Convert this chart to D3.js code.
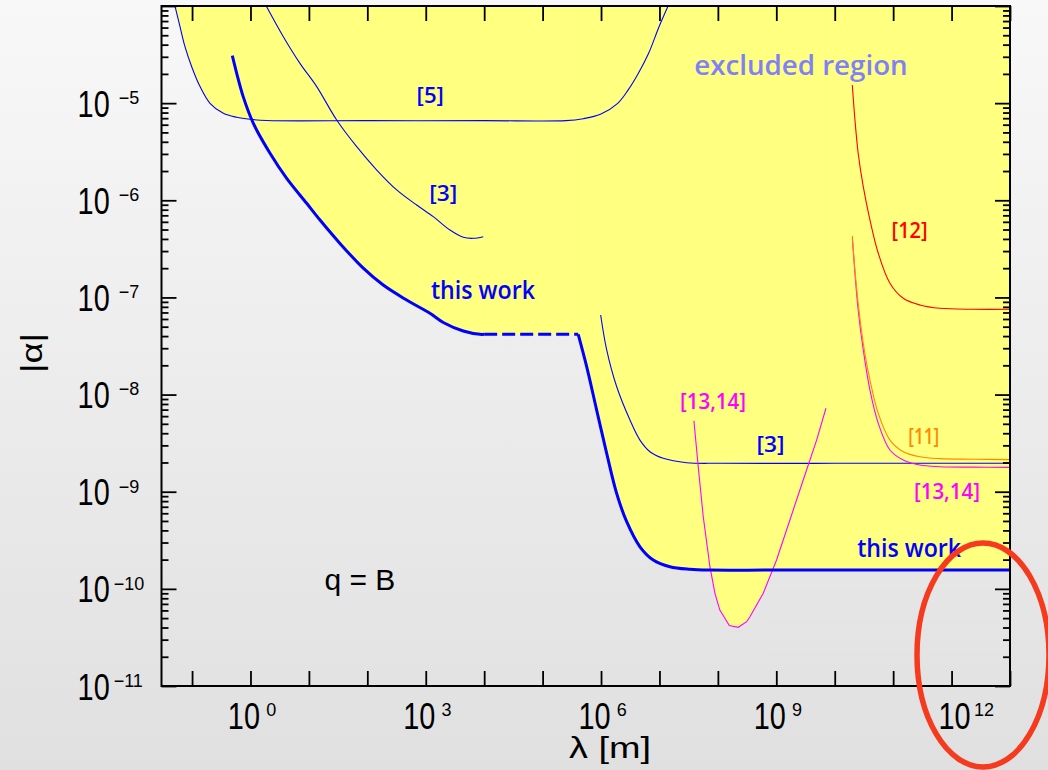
<!DOCTYPE html>
<html>
<head>
<meta charset="utf-8">
<script src="https://cdn.jsdelivr.net/npm/d3@7"></script>
<style>
  html, body { margin: 0; padding: 0; }
  body { width: 1048px; height: 770px; overflow: hidden; }
  text { font-family: "Liberation Sans", Arial, sans-serif; }
</style>
</head>
<body>
<svg id="chart" width="1048" height="770"></svg>
<script>
// Bounds on the coupling |alpha| of a Yukawa-type interaction vs. its range lambda (q = B)

// [5]: short-range torsion-balance bound
const ref5Lambda = [0.0500, 0.0622, 0.0757, 0.0986, 0.137, 0.203, 0.343, 0.581, 0.982, 1.89, 100, 1.0e4, 2.51e5, 4.97e5, 9.77e5, 1.93e6, 2.90e6, 4.36e6, 6.53e6, 9.84e6, 1.51e7];
const ref5Alpha  = [1.05e-4, 6.12e-5, 3.81e-5, 2.37e-5, 1.48e-5, 9.96e-6, 7.85e-6, 7.15e-6, 6.82e-6, 6.62e-6, 6.6e-6, 6.6e-6, 6.6e-6, 6.92e-6, 7.68e-6, 9.96e-6, 1.36e-5, 2.03e-5, 3.26e-5, 6.12e-5, 1.1e-4];

// [3]: laboratory-range bound
const ref3LabLambda = [1.71, 3.65, 7.03, 13.6, 29.9, 65.8, 145, 318, 700, 1345, 2600, 4385, 6500, 9640];
const ref3LabAlpha  = [1.1e-4, 4.83e-5, 2.57e-5, 1.48e-5, 6.70e-6, 3.56e-6, 2.05e-6, 1.28e-6, 8.93e-7, 6.78e-7, 4.94e-7, 4.16e-7, 4.06e-7, 4.22e-7];

// [3]: long-range bound
const ref3FarLambda = [9.86e5, 1.25e6, 1.85e6, 3.13e6, 4.64e6, 6.88e6, 1.16e7, 2.92e7, 1.08e8, 1.0e10, 1.0e13];
const ref3FarAlpha  = [6.59e-8, 2.88e-8, 1.21e-8, 5.47e-9, 3.40e-9, 2.58e-9, 2.21e-9, 1.99e-9, 1.96e-9, 1.96e-9, 1.96e-9];

// this work: short-range part, interpolated gap, long-range part
const thisWorkNearLambda = [0.489, 0.581, 0.753, 1.12, 2.16, 4.17, 9.16, 15.5, 34.0, 85.3, 187, 471, 1180, 1995, 4385, 8470, 1.0e4];
const thisWorkNearAlpha  = [3.08e-5, 2.03e-5, 1.16e-5, 6.19e-6, 3.05e-6, 1.68e-6, 9.31e-7, 6.26e-7, 3.60e-7, 2.0e-7, 1.34e-7, 9.40e-8, 6.86e-8, 5.52e-8, 4.51e-8, 4.17e-8, 4.17e-8];
const thisWorkGapLambda  = [1.0e4, 4.07e5];
const thisWorkGapAlpha   = [4.17e-8, 4.17e-8];
const thisWorkFarLambda  = [4.07e5, 5.68e5, 8.42e5, 1.25e6, 1.85e6, 2.75e6, 4.64e6, 7.83e6, 1.51e7, 3.33e7, 7.31e7, 1.0e9, 1.0e13];
const thisWorkFarAlpha   = [4.17e-8, 1.94e-8, 6.93e-9, 2.48e-9, 9.62e-10, 4.91e-10, 2.71e-10, 1.98e-10, 1.69e-10, 1.59e-10, 1.56e-10, 1.56e-10, 1.56e-10];

// [13,14]: satellite-range bound
const ref1314Lambda = [3.89e7, 4.61e7, 5.62e7, 7.31e7, 8.91e7, 1.08e8, 1.57e8, 2.23e8, 3.11e8, 3.54e8, 5.98e8, 1.01e9, 1.71e9, 2.89e9, 4.90e9, 7.08e9];
const ref1314Alpha  = [5.38e-9, 1.81e-9, 5.53e-10, 1.69e-10, 9.0e-11, 6.05e-11, 4.20e-11, 4.02e-11, 4.59e-11, 5.16e-11, 9.0e-11, 1.98e-10, 5.12e-10, 1.32e-9, 3.40e-9, 7.23e-9];

// planetary-range bounds [12], [11], [13,14] share the same lambda grid
const planetLambda       = [2.0e10, 2.22e10, 2.52e10, 3.08e10, 4.01e10, 5.56e10, 8.81e10, 1.49e11, 2.87e11, 6.32e11, 2.35e12, 1.0e13];
const ref12Alpha         = [1.54e-5, 6.70e-6, 3.05e-6, 1.38e-6, 6.26e-7, 2.85e-7, 1.40e-7, 9.8e-8, 8.36e-8, 7.73e-8, 7.55e-8, 7.55e-8];
const ref11Alpha         = [4.32e-7, 1.91e-7, 8.69e-8, 3.37e-8, 1.41e-8, 6.41e-9, 3.40e-9, 2.58e-9, 2.29e-9, 2.19e-9, 2.16e-9, 2.14e-9];
const ref1314PlanetAlpha = [4.06e-7, 1.77e-7, 7.43e-8, 2.88e-8, 1.11e-8, 5.06e-9, 2.69e-9, 2.12e-9, 1.88e-9, 1.81e-9, 1.79e-9, 1.78e-9];

// tick labels (powers of ten)
const xLabelExponents = [0, 3, 6, 9, 12];
const yLabelExponents = [-11, -10, -9, -8, -7, -6, -5];

// curve annotations: text, lambda, alpha
const noteText   = ["excluded region", "[5]", "[3]", "this work", "[12]", "[13,14]", "[3]", "[11]", "[13,14]", "this work", "q = B"];
const noteLambda = [2.64e9, 1194, 1995, 9530, 1.91e11, 8.24e7, 7.94e8, 3.34e11, 8.32e11, 1.88e11, 19.4];
const noteAlpha  = [1.95e-5, 1.0e-5, 9.9e-7, 9.57e-8, 4.06e-7, 7.05e-9, 2.55e-9, 3.10e-9, 8.36e-10, 2.11e-10, 9.7e-11];

// ---------------------------------------------------------------------------
const W = 1048, H = 770;
const plot = { left: 161.5, right: 1010, top: 6, bottom: 686 };

const BLUE = "#0000ff", RED = "#ff0000", ORANGE = "#ff8800", MAGENTA = "#ff00ff";
const YELLOW = "#ffff80";

const x = d3.scaleLog().domain([0.03, 1e13]).range([plot.left, plot.right]);
const y = d3.scaleLog().domain([1e-11, 1e-4]).range([plot.bottom, plot.top]);

const svg = d3.select("#chart");
const defs = svg.append("defs");

const grad = defs.append("linearGradient").attr("id", "bg")
  .attr("x1", 0).attr("y1", 0).attr("x2", 0).attr("y2", 1);
grad.append("stop").attr("offset", "0%").attr("stop-color", "#f8f8f8");
grad.append("stop").attr("offset", "100%").attr("stop-color", "#e0e0e0");
svg.append("rect").attr("width", W).attr("height", H).attr("fill", "url(#bg)");

defs.append("clipPath").attr("id", "plotClip").append("rect")
  .attr("x", plot.left).attr("y", plot.top)
  .attr("width", plot.right - plot.left).attr("height", plot.bottom - plot.top);

const pts = (ls, as) => ls.map((l, i) => [l, as[i]]);
const smooth = d3.curveCatmullRom.alpha(0.5);

const lineSmooth = d3.line().x(d => x(d[0])).y(d => y(d[1])).curve(smooth);
const lineStraight = d3.line().x(d => x(d[0])).y(d => y(d[1]));
const areaAbove = curve => d3.area().x(d => x(d[0])).y0(plot.top - 20).y1(d => y(d[1])).curve(curve);

const ref5 = pts(ref5Lambda, ref5Alpha);
const ref3Lab = pts(ref3LabLambda, ref3LabAlpha);
const ref3Far = pts(ref3FarLambda, ref3FarAlpha);
const twNear = pts(thisWorkNearLambda, thisWorkNearAlpha);
const twGap = pts(thisWorkGapLambda, thisWorkGapAlpha);
const twFar = pts(thisWorkFarLambda, thisWorkFarAlpha);
const ref1314 = pts(ref1314Lambda, ref1314Alpha);
const ref12 = pts(planetLambda, ref12Alpha);
const ref11 = pts(planetLambda, ref11Alpha);
const ref1314Planet = pts(planetLambda, ref1314PlanetAlpha);

const plotG = svg.append("g").attr("clip-path", "url(#plotClip)");

// excluded region: union of the areas above the bounds
const fillG = plotG.append("g").attr("fill", YELLOW).attr("stroke", YELLOW).attr("stroke-width", 0.6);
fillG.append("path").attr("d", areaAbove(smooth)(ref5));
fillG.append("path").attr("d", areaAbove(smooth)(twNear));
fillG.append("path").attr("d", areaAbove(d3.curveLinear)(twGap));
fillG.append("path").attr("d", areaAbove(smooth)(twFar));
fillG.append("path").attr("d", areaAbove(d3.curveLinear)(ref1314));

// bound curves
const thin = (data, color, gen) => plotG.append("path")
  .attr("d", (gen || lineSmooth)(data))
  .attr("fill", "none").attr("stroke", color).attr("stroke-width", 1.1);

thin(ref5, BLUE);
thin(ref3Lab, BLUE);
thin(ref3Far, BLUE);
thin(ref1314, MAGENTA, lineStraight);
thin(ref12, RED);
thin(ref1314Planet, MAGENTA);
thin(ref11, ORANGE);

const thick = plotG.append("g").attr("fill", "none").attr("stroke", BLUE).attr("stroke-width", 3);
thick.append("path").attr("d", lineSmooth(twNear));
thick.append("path").attr("d", lineStraight(twGap)).attr("stroke-dasharray", "13,5");
thick.append("path").attr("d", lineSmooth(twFar));

// ---------------------------------------------------------------------------
// axes: decade ticks on x, decade + minor ticks on y, mirrored on all sides
const xDecades = d3.range(-1, 14).map(e => Math.pow(10, e));
const yDecades = d3.range(-11, -3).map(e => Math.pow(10, e));
const yMinor = [];
d3.range(-11, -4).forEach(e => d3.range(2, 10).forEach(m => yMinor.push(m * Math.pow(10, e))));

const axisStyle = g => {
  g.select(".domain").remove();
  g.selectAll(".tick line").attr("stroke", "#000").attr("stroke-width", 1.8);
  g.selectAll(".tick text").remove();
};

svg.append("g").attr("transform", `translate(0,${plot.bottom})`)
  .call(d3.axisBottom(x).tickValues(xDecades).tickSize(-15).tickFormat("")).call(axisStyle);
svg.append("g").attr("transform", `translate(0,${plot.top})`)
  .call(d3.axisTop(x).tickValues(xDecades).tickSize(-15).tickFormat("")).call(axisStyle);
svg.append("g").attr("transform", `translate(${plot.left},0)`)
  .call(d3.axisLeft(y).tickValues(yDecades).tickSize(-15).tickFormat("")).call(axisStyle);
svg.append("g").attr("transform", `translate(${plot.left},0)`)
  .call(d3.axisLeft(y).tickValues(yMinor).tickSize(-7).tickFormat("")).call(axisStyle);
svg.append("g").attr("transform", `translate(${plot.right},0)`)
  .call(d3.axisRight(y).tickValues(yDecades).tickSize(-15).tickFormat("")).call(axisStyle);
svg.append("g").attr("transform", `translate(${plot.right},0)`)
  .call(d3.axisRight(y).tickValues(yMinor).tickSize(-7).tickFormat("")).call(axisStyle);

svg.append("rect")
  .attr("x", plot.left).attr("y", plot.top)
  .attr("width", plot.right - plot.left).attr("height", plot.bottom - plot.top)
  .attr("fill", "none").attr("stroke", "#000").attr("stroke-width", 2);

// "10" with a superscript exponent
const labelsG = svg.append("g").attr("fill", "#000");
function powerLabel(inkX, baseline, expX, expBaseline, e) {
  labelsG.append("text")
    .attr("transform", `translate(${inkX - 3.1},${baseline}) scale(0.78,1)`)
    .attr("font-size", 37).text("10");
  labelsG.append("text")
    .attr("x", expX - 0.8).attr("y", expBaseline)
    .attr("font-size", 18).text(e < 0 ? "\u2212" + Math.abs(e) : String(e));
}

xLabelExponents.forEach(e => {
  const t = x(Math.pow(10, e));
  const digits = String(e).length;
  const ink = t - 19.5 + (digits - 1) * 9.5;
  powerLabel(ink, 729.3, ink + (digits === 1 ? 36 : 33.3), 716, e);
});
yLabelExponents.forEach(e => {
  const t = y(Math.pow(10, e));
  const digits = String(Math.abs(e)).length;
  powerLabel(80.7, t + 13.6, digits === 1 ? 119.5 : 114.5, t + 0.8, e);
});

// axis titles
svg.append("text").attr("x", 569).attr("y", 758)
  .attr("font-size", 30).attr("textLength", 82).attr("lengthAdjust", "spacingAndGlyphs")
  .text("\u03bb [m]");
svg.append("text").attr("transform", "translate(42.2,353) rotate(-90)")
  .attr("text-anchor", "middle").attr("font-size", 29)
  .attr("textLength", 40).attr("lengthAdjust", "spacingAndGlyphs")
  .text("|\u03b1|");

// annotations
const noteStyle = {
  "excluded region": { color: "#8080f8", size: 27, width: 213.5 },
  "[5]": { color: BLUE, size: 21, width: 27.3 },
  "[3]": { color: BLUE, size: 21, width: 28 },
  "this work": { color: BLUE, size: 25, width: 104 },
  "[12]": { color: RED, size: 21, width: 36 },
  "[13,14]": { color: MAGENTA, size: 21, width: 66 },
  "[11]": { color: ORANGE, size: 21, width: 31 }
};
noteText.forEach((txt, i) => {
  const px = x(noteLambda[i]), py = y(noteAlpha[i]);
  if (txt === "q = B") {
    svg.append("text").attr("x", px - 1.2).attr("y", py)
      .attr("font-size", 30).attr("fill", "#000").text(txt);
    return;
  }
  const s = noteStyle[txt];
  svg.append("text").attr("x", px).attr("y", py)
    .attr("text-anchor", "middle")
    .style("font-family", "'Open Sans', 'Noto Sans', sans-serif")
    .attr("font-weight", 600)
    .attr("font-size", s.size).attr("fill", s.color)
    .attr("textLength", s.width).attr("lengthAdjust", "spacingAndGlyphs")
    .text(txt);
});

// highlight ring around the far end of the lambda axis
svg.append("ellipse")
  .attr("cx", 983).attr("cy", 655).attr("rx", 66).attr("ry", 112)
  .attr("fill", "none").attr("stroke", "#f63a1e").attr("stroke-width", 5.5);
</script>
</body>
</html>
